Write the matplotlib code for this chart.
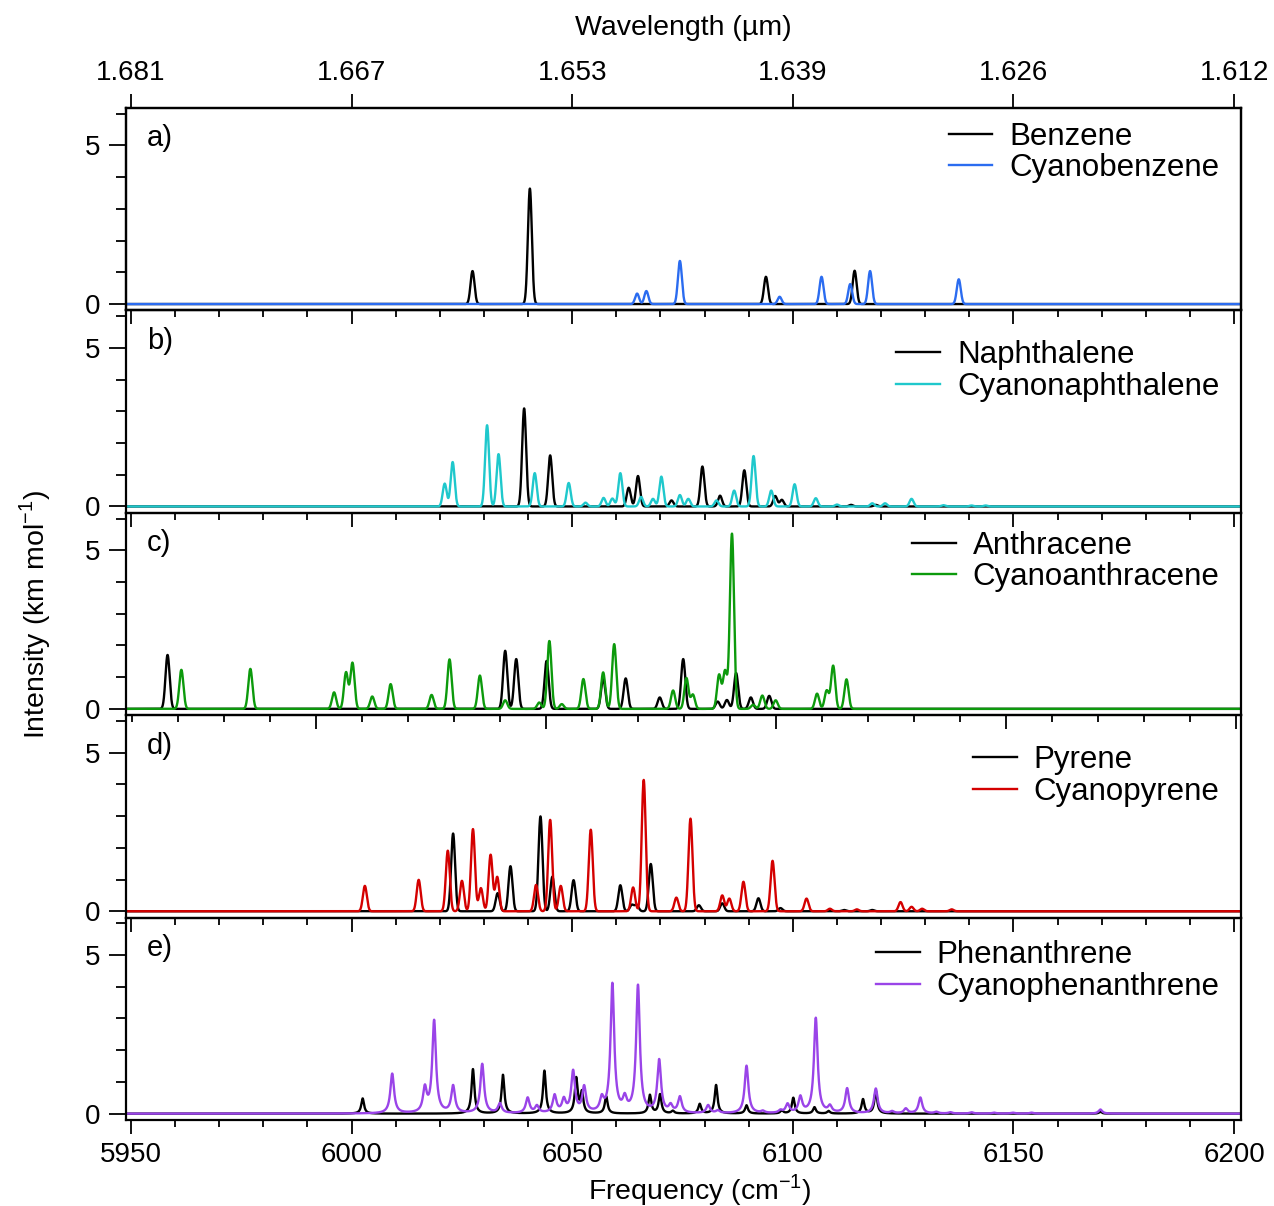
import numpy as np
import matplotlib.pyplot as plt
from matplotlib.ticker import MultipleLocator

plt.rcParams['font.family'] = ['Liberation Sans', 'DejaVu Sans']
plt.rcParams['mathtext.fontset'] = 'custom'
plt.rcParams['mathtext.rm'] = 'Liberation Sans'

# stick positions (cm-1) and intensities (km/mol)
benzene_pos = [6027.4, 6040.4, 6093.9, 6114.0]
benzene_int = [1.04, 3.64, 0.86, 1.05]
cyanobenzene_pos = [6064.7, 6066.8, 6074.4, 6097.0, 6106.5, 6113.0, 6117.5, 6137.6]
cyanobenzene_int = [0.33, 0.41, 1.36, 0.23, 0.86, 0.63, 1.04, 0.78]

naphthalene_pos = [6039.1, 6045.0, 6062.8, 6064.9, 6072.5, 6079.5, 6083.5, 6089.0,
                   6096.0, 6097.5, 6113.2, 6118.8]
naphthalene_int = [3.09, 1.61, 0.59, 0.96, 0.19, 1.26, 0.34, 1.14, 0.33, 0.21, 0.05, 0.05]
cyanonaphthalene_pos = [6021.1, 6022.9, 6030.7, 6033.3, 6041.5, 6049.2, 6053.0, 6057.1,
                        6059.1, 6060.9, 6065.6, 6068.3, 6070.2, 6074.4, 6076.3, 6082.7,
                        6086.7, 6091.1, 6095.1, 6100.4, 6105.2, 6110.0, 6118.0, 6120.9,
                        6126.9, 6134.1, 6140.5, 6143.7]
cyanonaphthalene_int = [0.72, 1.40, 2.56, 1.65, 1.05, 0.74, 0.12, 0.27, 0.25, 1.05,
                        0.30, 0.24, 0.94, 0.36, 0.24, 0.19, 0.50, 1.59, 0.50, 0.70,
                        0.26, 0.06, 0.10, 0.10, 0.24, 0.04, 0.03, 0.03]

anthracene_pos = [5967.7, 6041.1, 6043.5, 6050.1, 6062.4, 6067.3, 6074.7, 6079.8,
                  6087.3, 6089.3, 6091.3, 6094.5, 6098.5]
anthracene_int = [1.70, 1.83, 1.57, 1.51, 0.96, 0.96, 0.36, 1.57, 0.23, 0.28, 1.13, 0.36, 0.41]
cyanoanthracene_pos = [5970.7, 5985.7, 6003.9, 6006.5, 6007.9, 6012.2, 6016.2, 6025.1,
                       6029.0, 6035.6, 6041.1, 6048.5, 6050.7, 6053.4, 6058.1, 6062.4,
                       6064.8, 6077.6, 6080.5, 6081.9, 6087.6, 6088.9, 6090.4, 6095.0,
                       6097.0, 6099.9, 6108.9, 6111.0, 6112.4, 6115.3]
cyanoanthracene_int = [1.23, 1.26, 0.52, 1.15, 1.45, 0.39, 0.78, 0.44, 1.56, 1.05,
                       0.27, 0.20, 2.14, 0.15, 0.94, 1.15, 2.04, 0.58, 0.97, 0.45,
                       1.07, 1.19, 5.52, 0.13, 0.42, 0.27, 0.48, 0.58, 1.36, 0.93]

pyrene_pos = [6023.0, 6033.1, 6036.0, 6042.8, 6045.5, 6050.3, 6060.9, 6063.5, 6064.6,
              6067.8, 6078.7, 6084.0, 6092.2, 6097.2, 6111.6, 6118.0]
pyrene_int = [2.45, 0.57, 1.42, 2.99, 1.09, 0.98, 0.82, 0.2, 0.2, 1.49, 0.19, 0.25,
              0.41, 0.10, 0.04, 0.04]
cyanopyrene_pos = [6003.0, 6015.2, 6021.8, 6025.0, 6027.5, 6029.3, 6031.5, 6033.0,
                   6041.8, 6045.0, 6047.4, 6054.2, 6063.8, 6066.2, 6073.6, 6076.8,
                   6084.0, 6085.6, 6088.8, 6095.4, 6103.1, 6108.4, 6114.5, 6124.4,
                   6126.9, 6129.3, 6136.0]
cyanopyrene_int = [0.80, 0.99, 1.91, 0.96, 2.59, 0.73, 1.78, 1.08, 0.83, 2.88, 0.80,
                   2.57, 0.75, 4.14, 0.43, 2.92, 0.50, 0.40, 0.93, 1.59, 0.40, 0.08,
                   0.06, 0.29, 0.14, 0.08, 0.06]

phenanthrene_pos = [6002.5, 6027.5, 6034.3, 6043.7, 6050.9, 6052.2, 6057.7, 6067.6,
                    6069.9, 6072.8, 6078.9, 6082.6, 6089.5, 6097.5, 6100.1, 6104.9,
                    6108.1, 6115.9, 6118.8, 6169.7]
phenanthrene_int = [0.48, 1.40, 1.22, 1.35, 1.10, 0.65, 0.54, 0.58, 0.60, 0.08, 0.30,
                    0.90, 0.26, 0.1, 0.50, 0.20, 0.08, 0.45, 0.72, 0.06]
cyanophenanthrene_pos = [6009.2, 6016.6, 6018.7, 6023.0, 6029.6, 6033.6, 6039.9, 6042.0,
                         6046.0, 6048.1, 6050.2, 6052.7, 6056.7, 6059.1, 6061.9, 6064.9,
                         6069.7, 6072.3, 6074.4, 6080.8, 6083.0, 6089.5, 6093.2, 6097.2,
                         6098.8, 6101.7, 6105.2, 6108.4, 6112.3, 6118.8, 6122.5, 6125.6,
                         6128.9, 6132.5, 6135.7, 6140.5, 6145.6, 6149.8, 6154.1, 6169.7]
cyanophenanthrene_int = [1.25, 0.75, 2.90, 0.85, 1.55, 0.30, 0.48, 0.22, 0.55, 0.40,
                         1.30, 0.80, 0.40, 4.05, 0.40, 4.00, 1.65, 0.22, 0.50, 0.25,
                         0.08, 1.50, 0.06, 0.08, 0.28, 0.50, 3.00, 0.20, 0.78, 0.78,
                         0.06, 0.15, 0.50, 0.05, 0.04, 0.04, 0.03, 0.03, 0.03, 0.13]

panels = [
    ('a)', 'Benzene', benzene_pos, benzene_int, 'Cyanobenzene', cyanobenzene_pos, cyanobenzene_int, '#2b6cf0'),
    ('b)', 'Naphthalene', naphthalene_pos, naphthalene_int, 'Cyanonaphthalene', cyanonaphthalene_pos, cyanonaphthalene_int, '#1fc8cc'),
    ('c)', 'Anthracene', anthracene_pos, anthracene_int, 'Cyanoanthracene', cyanoanthracene_pos, cyanoanthracene_int, '#0c9a0c'),
    ('d)', 'Pyrene', pyrene_pos, pyrene_int, 'Cyanopyrene', cyanopyrene_pos, cyanopyrene_int, '#d40000'),
    ('e)', 'Phenanthrene', phenanthrene_pos, phenanthrene_int, 'Cyanophenanthrene', cyanophenanthrene_pos, cyanophenanthrene_int, '#9a44e8'),
]

wl_ticks = [5950, 6000, 6050, 6100, 6150, 6200]
wl_labels = ['1.681', '1.667', '1.653', '1.639', '1.626', '1.612']


def spectrum(x, pos, amp, width, shape):
    y = np.zeros_like(x)
    for p, a in zip(pos, amp):
        if shape == 'g':
            y += a * np.exp(-0.5 * ((x - p) / width) ** 2)
        else:
            y += a / (1 + ((x - p) / width) ** 2)
    return y


fig = plt.figure(figsize=(12.74, 12.06), dpi=100)
W, H = 1274, 1206
left, right = 125.7, 1240.7
top0, ph = 108, 202.4
leg_y = [1.025, 0.945, 1.005, 0.945, 0.98]

for i, (tag, n1, p1, i1, n2, p2, i2, col) in enumerate(panels):
    ax = fig.add_axes([left / W, 1 - (top0 + (i + 1) * ph) / H, (right - left) / W, ph / H])
    ax.set_facecolor('none')
    xlim = (5958.6, 6201.0) if i == 2 else (5948.8, 6201.5)
    x = np.arange(xlim[0], xlim[1], 0.02)
    if i == 4:
        y1 = spectrum(x, p1, i1, 0.38, 'l')
        y2 = spectrum(x, p2, i2, 0.5, 'l')
    else:
        y1 = spectrum(x, p1, i1, 0.45, 'g')
        y2 = spectrum(x, p2, i2, 0.45, 'g')
    ax.plot(x, y1, color='black', lw=1.7, label=n1)
    ax.plot(x, y2, color=col, lw=1.7, label=n2)
    ax.set_xlim(xlim)
    ax.set_ylim(-0.2, 6.18)
    ax.xaxis.set_major_locator(MultipleLocator(50))
    ax.xaxis.set_minor_locator(MultipleLocator(10))
    ax.yaxis.set_major_locator(MultipleLocator(5))
    ax.yaxis.set_minor_locator(MultipleLocator(1))
    ax.tick_params(which='major', direction='out', length=10, width=1.3, labelsize=20, pad=6)
    ax.tick_params(which='minor', direction='out', length=5, width=1.3)
    ax.tick_params(axis='y', which='major', length=12)
    ax.tick_params(axis='y', which='minor', length=7)
    if i < 4:
        ax.tick_params(axis='x', labelbottom=False)
    for s in ax.spines.values():
        s.set_linewidth(1.6)
    ax.text(0.019, 0.85, tag, transform=ax.transAxes, fontsize=21, va='center')
    ax.legend(loc='upper right', bbox_to_anchor=(0.998, leg_y[i]), frameon=False,
              fontsize=22.5, handlelength=1.4, handletextpad=0.55, labelspacing=0.05,
              borderaxespad=0.2)
    if i == 0:
        ax2 = ax.twiny()
        ax2.set_xlim(xlim)
        ax2.set_xticks(wl_ticks)
        ax2.set_xticklabels(wl_labels)
        ax2.tick_params(direction='out', length=10, width=1.3, labelsize=20, pad=6)
        ax2.set_facecolor('none')
        for s in ax2.spines.values():
            s.set_linewidth(1.6)

fig.text(683 / W, 1 - 28 / H, 'Wavelength (µm)', fontsize=20.5, ha='center', va='center')
fig.text(700 / W, 1 - 1190 / H, 'Frequency (cm$^{-1}$)', fontsize=20.5, ha='center', va='center')
fig.text(35 / W, 1 - 615 / H, 'Intensity (km mol$^{-1}$)', fontsize=20.5, ha='center',
         va='center', rotation=90)

fig.savefig('out.png', dpi=100)
